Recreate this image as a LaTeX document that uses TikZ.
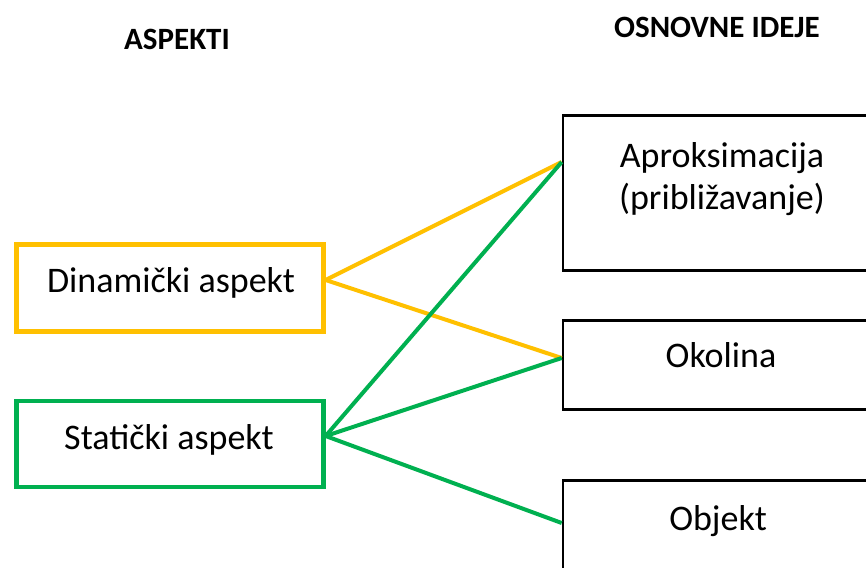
\documentclass[tikz,border=0pt]{standalone}
\usepackage{fontspec}
\setmainfont{Carlito}
\definecolor{gold}{HTML}{FFC000}
\definecolor{okgreen}{HTML}{00B050}
\tikzset{
  body/.style={font=\fontsize{36}{41}\selectfont, inner sep=0pt, align=center},
  head/.style={font=\fontsize{31}{35}\selectfont\bfseries, inner sep=0pt},
  aspbox/.style={draw, line width=4.2pt, rectangle, inner sep=0pt, minimum width=307pt},
  ideabox/.style={draw=black, line width=2.6pt, rectangle, inner sep=0pt, minimum width=318pt},
  goldline/.style={draw=gold, line width=4pt},
  greenline/.style={draw=okgreen, line width=4pt}
}
\begin{document}
\begin{tikzpicture}[x=1pt,y=-1pt]
\useasboundingbox (0,0) rectangle (866,567);
\clip (0,0) rectangle (866,567);
\fill[white] (0,0) rectangle (866,567);
% headers
\node[head, anchor=base] (hasp) at (177,50) {ASPEKTI};
\node[head, anchor=base] (hide) at (717,38) {OSNOVNE IDEJE};
% left boxes
\node[aspbox, draw=gold, minimum height=87pt] (dyn) at (170,288) {};
\node[aspbox, draw=okgreen, minimum height=86pt] (stat) at (170,444) {};
\node[body, anchor=base] (tdyn) at (171,292) {Dinamički aspekt};
\node[body, anchor=base] (tstat) at (169,449) {Statički aspekt};
% right boxes
\node[ideabox, minimum height=155pt] (apr) at (722,193) {};
\node[ideabox, minimum height=89pt] (oko) at (722,365) {};
\node[ideabox, minimum height=89pt] (obj) at (722,525) {};
\node[body, anchor=base] (tapr1) at (722,167) {Aproksimacija};
\node[body, anchor=base] (tapr2) at (722,209) {(približavanje)};
\node[body, anchor=base] (toko) at (721,367) {Okolina};
\node[body, anchor=base] (tobj) at (718,530) {Objekt};
% connectors
\draw[goldline] ([yshift=8pt]dyn.east) -- ([yshift=31pt]apr.west);
\draw[goldline] ([yshift=8pt]dyn.east) -- ([yshift=7pt]oko.west);
\draw[greenline] ([yshift=8pt]stat.east) -- ([yshift=31pt]apr.west);
\draw[greenline] ([yshift=8pt]stat.east) -- ([yshift=7pt]oko.west);
\draw[greenline] ([yshift=8pt]stat.east) -- ([yshift=2pt]obj.west);
\end{tikzpicture}
\end{document}
